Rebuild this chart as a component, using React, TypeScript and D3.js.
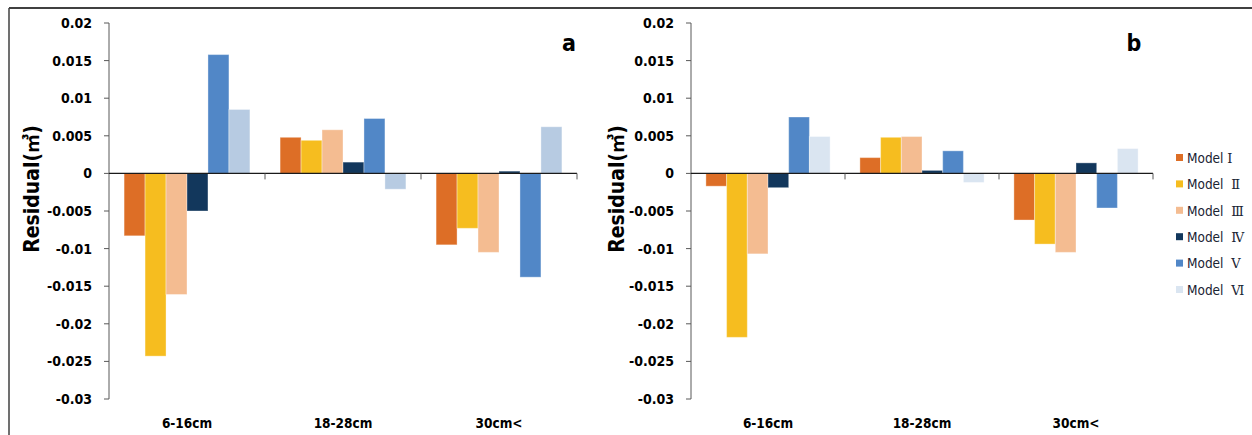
import React from 'react';
import * as d3 from 'd3';

// categories and models
const categories = ['6-16cm', '18-28cm', '30cm<'];
const modelNames = ['Model ', 'Model  ', 'Model  ', 'Model  ', 'Model  ', 'Model  '];
const modelNumerals = ['Ⅰ', 'Ⅱ', 'Ⅲ', 'Ⅳ', 'Ⅴ', 'Ⅵ'];
const yTicks = [0.02, 0.015, 0.01, 0.005, 0, -0.005, -0.01, -0.015, -0.02, -0.025, -0.03];

// panel a residuals, one array per model (values for the three categories)
const a_model1 = [-0.0083, 0.0048, -0.0095];
const a_model2 = [-0.0243, 0.0044, -0.0073];
const a_model3 = [-0.0161, 0.0058, -0.0105];
const a_model4 = [-0.0050, 0.0015, 0.0003];
const a_model5 = [0.0158, 0.0073, -0.0138];
const a_model6 = [0.0085, -0.0021, 0.0062];

// panel b residuals
const b_model1 = [-0.0017, 0.0021, -0.0062];
const b_model2 = [-0.0218, 0.0048, -0.0094];
const b_model3 = [-0.0107, 0.0049, -0.0105];
const b_model4 = [-0.0019, 0.0004, 0.0014];
const b_model5 = [0.0075, 0.0030, -0.0046];
const b_model6 = [0.0049, -0.0012, 0.0033];

const colorsA = ['#DD6E26', '#F6BD1F', '#F4BC91', '#12375C', '#5187C7', '#B7CBE2'];
const colorsB = ['#DD6E26', '#F6BD1F', '#F4BC91', '#12375C', '#5187C7', '#DAE5F1'];

const FONT = '"Liberation Sans Narrow", "DejaVu Sans Condensed", Arial, sans-serif';
const CJK = '"Noto Sans CJK SC", sans-serif';

type PanelProps = {
  series: number[][];
  colors: string[];
  x0: number;
  x1: number;
  label: string;
  labelX: number;
  titleX: number;
};

const Panel = ({ series, colors, x0, x1, label, labelX, titleX }: PanelProps) => {
  const y = d3.scaleLinear().domain([-0.03, 0.02]).range([399, 23]);
  const x = d3.scaleBand().domain(categories).range([x0, x1]).padding(0);
  const inner = d3.scaleBand<number>()
    .domain(d3.range(series.length))
    .range([0, x.bandwidth()])
    .paddingInner(0)
    .paddingOuter(0.72);
  const zero = y(0);

  return (
    <g>
      {/* bars */}
      {categories.map((c, ci) => (
        <g key={c} transform={`translate(${x(c)},0)`}>
          {series.map((vals, mi) => {
            const v = vals[ci];
            const top = Math.min(y(v), zero);
            const h = Math.abs(y(v) - zero);
            return (
              <rect key={mi} x={inner(mi)} y={top} width={inner.bandwidth()} height={h}
                fill={colors[mi]} stroke="#ffffff" strokeOpacity={0.35} strokeWidth={1} />
            );
          })}
        </g>
      ))}

      {/* y axis */}
      <line x1={x0} x2={x0} y1={y(0.02)} y2={y(-0.03)} stroke="#595959" strokeWidth={1} />
      {yTicks.map(t => (
        <g key={t}>
          <line x1={x0 - 5} x2={x0} y1={y(t)} y2={y(t)} stroke="#595959" strokeWidth={1} />
          <text x={x0 - 17} y={y(t)} dy="0.35em" textAnchor="end"
            fontFamily={FONT} fontWeight="bold" fontSize={14} fill="#000">
            {t === 0 ? '0' : String(t)}
          </text>
        </g>
      ))}

      {/* x axis at zero */}
      <line x1={x0} x2={x1} y1={zero} y2={zero} stroke="#1a1a1a" strokeWidth={1.3} />
      {categories.map(c => (
        <line key={c} x1={(x(c) ?? 0) + x.bandwidth()} x2={(x(c) ?? 0) + x.bandwidth()}
          y1={zero} y2={zero + 6} stroke="#595959" strokeWidth={1} />
      ))}
      {categories.map(c => (
        <text key={c} x={(x(c) ?? 0) + x.bandwidth() / 2} y={428} textAnchor="middle"
          fontFamily={FONT} fontWeight="bold" fontSize={13.5} fill="#000">
          {c}
        </text>
      ))}

      {/* axis title */}
      <text transform={`translate(${titleX},189) rotate(-90)`} dy="0.35em" textAnchor="middle"
        fontFamily={FONT} fontWeight="bold" fontSize={21} fill="#000">
        Residual(<tspan fontFamily={CJK} fontSize={19}>㎥</tspan>)
      </text>

      {/* panel label */}
      <text x={labelX} y={51} textAnchor="middle" fontFamily={FONT} fontWeight="bold"
        fontSize={23} fill="#000">
        {label}
      </text>
    </g>
  );
};

export default function App() {
  const seriesA = [a_model1, a_model2, a_model3, a_model4, a_model5, a_model6];
  const seriesB = [b_model1, b_model2, b_model3, b_model4, b_model5, b_model6];
  const legendY = d3.scaleLinear().domain([0, modelNames.length - 1]).range([158, 290]);

  return (
    <svg width={1252} height={435} style={{ position: 'absolute', left: 0, top: 0, background: '#fff' }}>
      <rect x={0} y={0} width={1252} height={435} fill="#fff" />
      {/* outer frame */}
      <line x1={9} x2={1252} y1={8} y2={8} stroke="#404040" strokeWidth={2} />
      <line x1={9} x2={9} y1={8} y2={435} stroke="#404040" strokeWidth={1.5} />

      <Panel series={seriesA} colors={colorsA} x0={109} x1={577} label="a" labelX={569} titleX={32} />
      <Panel series={seriesB} colors={colorsB} x0={691} x1={1153} label="b" labelX={1134} titleX={617} />

      {/* legend */}
      {modelNames.map((m, i) => (
        <g key={i} transform={`translate(1176,${legendY(i)})`}>
          <rect x={0} y={-4} width={7} height={7} fill={colorsB[i]} />
          <text x={11} y={0} dy="0.35em" fontFamily={FONT} fontSize={13.5}
            fill="#1a2433" style={{ whiteSpace: 'pre' }}>
            {m}<tspan fontFamily='"DejaVu Serif", serif' fontSize={13}>{modelNumerals[i]}</tspan>
          </text>
        </g>
      ))}
    </svg>
  );
}
